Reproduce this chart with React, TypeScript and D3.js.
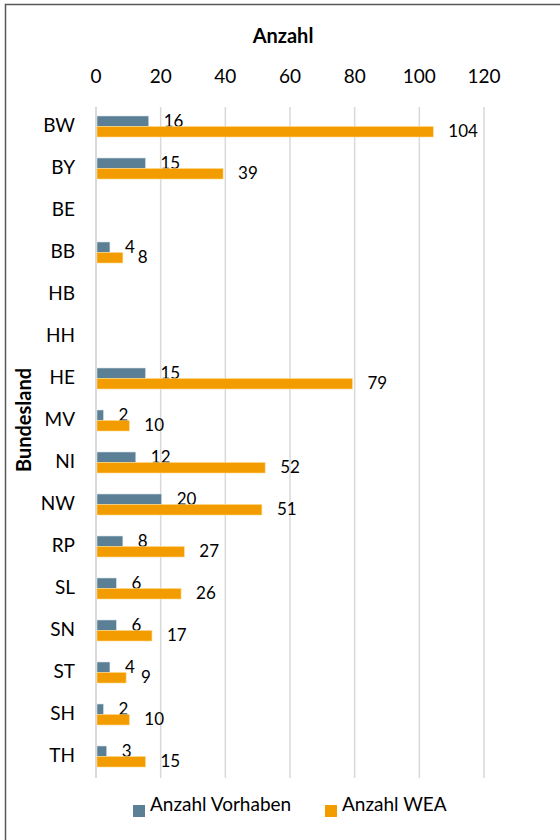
import React from "react";
import * as d3 from "d3";

const categories = ["BW", "BY", "BE", "BB", "HB", "HH", "HE", "MV", "NI", "NW", "RP", "SL", "SN", "ST", "SH", "TH"];
const vorhaben: (number | null)[] = [16, 15, null, 4, null, null, 15, 2, 12, 20, 8, 6, 6, 4, 2, 3];
const wea: (number | null)[] = [104, 39, null, 8, null, null, 79, 10, 52, 51, 27, 26, 17, 9, 10, 15];
const ticks = [0, 20, 40, 60, 80, 100, 120];
const seriesNames = ["Anzahl Vorhaben", "Anzahl WEA"];

const W = 560;
const H = 840;
const BLUE = "#5B7F95";
const ORANGE = "#F29C00";
const FONT = "Lato, 'Open Sans', sans-serif";

export default function App() {
  const x = d3.scaleLinear().domain([0, 120]).range([96, 484]);
  const y = d3.scaleBand().domain(categories).range([105.5, 777.5]);
  const barH = 10.5;
  return (
    <svg width={W} height={H} style={{ position: "absolute", left: 0, top: 0 }} fontFamily={FONT}>
      <rect x={0} y={0} width={W} height={H} fill="#fff" />
      <rect x={5.5} y={4.5} width={W + 20} height={H + 20} fill="none" stroke="#595959" strokeWidth={1.5} />
      <text x={283} y={38} textAnchor="middle" dominantBaseline="middle" fontWeight="bold" fontSize={20} fill="#000">Anzahl</text>
      {ticks.map((t) => (
        <g key={t}>
          <line x1={x(t)} x2={x(t)} y1={107} y2={778} stroke="#d9d9d9" strokeWidth={t === 0 ? 2 : 1.5} />
          <text x={x(t)} y={78} textAnchor="middle" dominantBaseline="middle" fontSize={19} fill="#000">{t}</text>
        </g>
      ))}
      {categories.map((c, i) => {
        const cy = (y(c) as number) + y.bandwidth() / 2;
        const v = vorhaben[i];
        const w = wea[i];
        return (
          <g key={c}>
            <text x={75} y={cy + 1} textAnchor="end" dominantBaseline="middle" fontSize={19} fill="#000">{c}</text>
            {v != null && (
              <g>
                <rect x={x(0) + 1} y={cy - barH} width={x(v) - x(0)} height={barH} fill={BLUE} stroke="#d8e0e6" strokeWidth={0.6} />
                <text x={x(v) + 16} y={cy - 3.5} dominantBaseline="middle" fontSize={17} fill="#000">{v}</text>
              </g>
            )}
            {w != null && (
              <g>
                <rect x={x(0) + 1} y={cy} width={x(w) - x(0)} height={barH} fill={ORANGE} stroke="#ffd98a" strokeWidth={0.6} />
                <text x={x(w) + 16} y={cy + 6} dominantBaseline="middle" fontSize={17} fill="#000">{w}</text>
              </g>
            )}
          </g>
        );
      })}
      <text transform="translate(26,420) rotate(-90)" textAnchor="middle" dominantBaseline="middle" fontWeight="bold" fontSize={20} fill="#000">Bundesland</text>
      <g>
        <rect x={133} y={805} width={12} height={12} fill={BLUE} />
        <text x={150} y={806} dominantBaseline="middle" fontSize={19} fill="#000">{seriesNames[0]}</text>
        <rect x={325} y={805} width={12} height={12} fill={ORANGE} />
        <text x={342} y={806} dominantBaseline="middle" fontSize={19} fill="#000">{seriesNames[1]}</text>
      </g>
    </svg>
  );
}
